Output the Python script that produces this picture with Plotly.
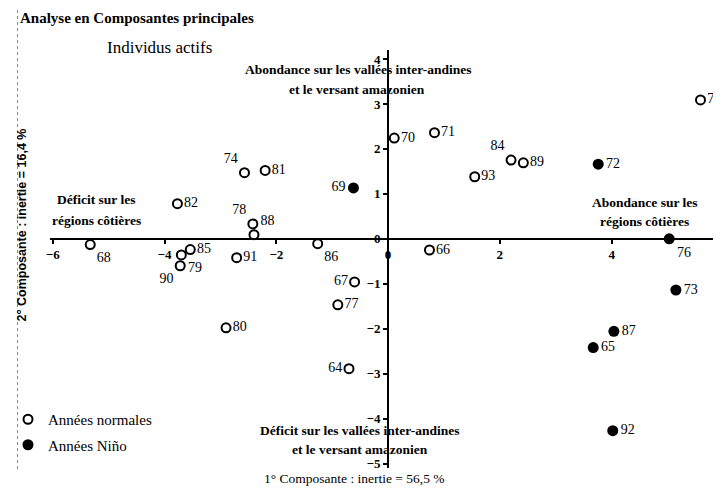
import plotly.graph_objects as go

# ---------------- data ----------------
normal_years = ["75", "70", "71", "84", "89", "93", "74", "81", "82", "78", "88",
                "68", "85", "79", "90", "91", "86", "80", "67", "77", "66", "64"]
normal_x = [5.59, 0.11, 0.83, 2.20, 2.42, 1.55, -2.57, -2.20, -3.77, -2.42, -2.40,
            -5.33, -3.54, -3.70, -3.72, -2.71, -1.26, -2.90, -0.60, -0.90, 0.74, -0.70]
normal_y = [3.09, 2.24, 2.36, 1.75, 1.69, 1.38, 1.47, 1.52, 0.78, 0.33, 0.09,
            -0.13, -0.24, -0.36, -0.60, -0.42, -0.11, -1.98, -0.96, -1.47, -0.25, -2.89]
normal_pos = ["middle right", "middle right", "middle right", "top left", "middle right",
              "middle right", "top left", "middle right", "middle right", "top left",
              "top right", "bottom right", "middle right", "bottom right", "bottom left",
              "middle right", "bottom right", "middle right", "middle left",
              "middle right", "middle right", "middle left"]

nino_years = ["72", "69", "76", "73", "87", "65", "92"]
nino_x = [3.76, -0.62, 5.03, 5.15, 4.04, 3.67, 4.02]
nino_y = [1.66, 1.13, 0.00, -1.14, -2.06, -2.42, -4.27]
nino_pos = ["middle right", "middle left", "bottom right", "middle right",
            "middle right", "middle right", "middle right"]

x_ticks = [-6, -4, -2, 0, 2, 4, 6]
y_ticks = [4, 3, 2, 1, 0, -1, -2, -3, -4, -5]

title = "Analyse en Composantes principales"
subtitle = "Individus actifs"
x_title = "1° Composante : inertie = 56,5 %"
y_title = "2° Composante : inertie = 16,4 %"
legend_names = ["Années normales", "Années Niño"]
quadrant_labels = [
    ("Abondance sur les vallées inter-andines", -0.53, 3.76),
    ("et le versant amazonien", -0.55, 3.33),
    ("Déficit sur les", -5.22, 0.87),
    ("régions côtières", -5.22, 0.40),
    ("Abondance sur les", 4.59, 0.80),
    ("régions côtières", 4.59, 0.38),
    ("Déficit sur les vallées inter-andines", -0.51, -4.27),
    ("et le versant amazonien", -0.51, -4.69),
]

# ---------------- layout constants ----------------
W, H = 721, 492
L, R, T, B = 31, 0, 42, 32
XR = [-6.05, 6.10]
YR = [-5.1, 4.2]
PW, PH = W - L - R, H - T - B
OFF = 8


def pxx(px):
    return (px - OFF - L) / PW


def pxy(py):
    return (H - B - (py - OFF)) / PH


SERIF = "Liberation Serif"
label_font = dict(family=SERIF, size=14, color="black")

fig = go.Figure()
fig.add_trace(go.Scatter(
    x=normal_x, y=normal_y, text=normal_years, textposition=normal_pos,
    mode="markers+text", name=legend_names[0], legendgroup="a",
    marker=dict(symbol="circle-open", size=9, color="black", line=dict(width=2, color="black")),
    textfont=label_font, cliponaxis=False,
))
fig.add_trace(go.Scatter(
    x=nino_x, y=nino_y, text=nino_years, textposition=nino_pos,
    mode="markers+text", name=legend_names[1], legendgroup="b",
    marker=dict(symbol="circle", size=11, color="black"),
    textfont=label_font, cliponaxis=False,
))

tickfont = dict(family=SERIF, size=13, color="black", weight="bold")
fig.update_xaxes(
    range=XR, anchor="free", position=(0 - YR[0]) / (YR[1] - YR[0]),
    showline=True, linecolor="black", linewidth=2,
    tickmode="array", tickvals=x_ticks, ticks="outside", ticklen=4, tickwidth=2,
    tickcolor="black", tickfont=tickfont, showgrid=False, zeroline=False,
)
fig.update_yaxes(
    range=YR, anchor="free", position=(0 - XR[0]) / (XR[1] - XR[0]),
    showline=True, linecolor="black", linewidth=2,
    tickmode="array", tickvals=y_ticks, ticks="outside", ticklen=4, tickwidth=2,
    tickcolor="black", tickfont=tickfont, showgrid=False, zeroline=False,
)

annotations = [
    dict(text=title, xref="paper", yref="paper", x=pxx(6), y=pxy(18),
         xanchor="left", yanchor="middle", showarrow=False,
         font=dict(family=SERIF, size=15, color="black", weight="bold")),
    dict(text=subtitle, xref="paper", yref="paper", x=pxx(150), y=pxy(47),
         xanchor="center", yanchor="middle", showarrow=False,
         font=dict(family=SERIF, size=17, color="black")),
    dict(text=x_title, xref="paper", yref="paper", x=pxx(348), y=pxy(478),
         xanchor="center", yanchor="middle", showarrow=False,
         font=dict(family=SERIF, size=13.5, color="black")),
    dict(text=y_title, xref="paper", yref="paper", x=pxx(11), y=pxy(225),
         xanchor="center", yanchor="middle", showarrow=False, textangle=-90,
         font=dict(family="Liberation Sans", size=12.5, color="black", weight="bold")),
]
for txt, xv, yv in quadrant_labels:
    annotations.append(dict(text=txt, x=xv, y=yv, xref="x", yref="y",
                            xanchor="center", yanchor="middle", showarrow=False,
                            font=dict(family=SERIF, size=13.5, color="black", weight="bold")))

shapes = [
    dict(type="line", xref="paper", yref="paper", x0=pxx(0), x1=pxx(W + 10), y0=pxy(4), y1=pxy(4),
         line=dict(color="#666", width=1, dash="dash")),
    dict(type="line", xref="paper", yref="paper", x0=pxx(6), x1=pxx(6), y0=pxy(4), y1=pxy(470),
         line=dict(color="#888", width=1, dash="dot")),
]

fig.update_layout(
    width=W, height=H, margin=dict(l=L, r=R, t=T, b=B),
    paper_bgcolor="white", plot_bgcolor="white",
    annotations=annotations, shapes=shapes,
    showlegend=True,
    legend=dict(x=pxx(-4), y=pxy(403), xanchor="left", yanchor="top",
                bgcolor="rgba(0,0,0,0)", tracegroupgap=3,
                font=dict(family=SERIF, size=15, color="black")),
)

fig.write_html("out.html")
